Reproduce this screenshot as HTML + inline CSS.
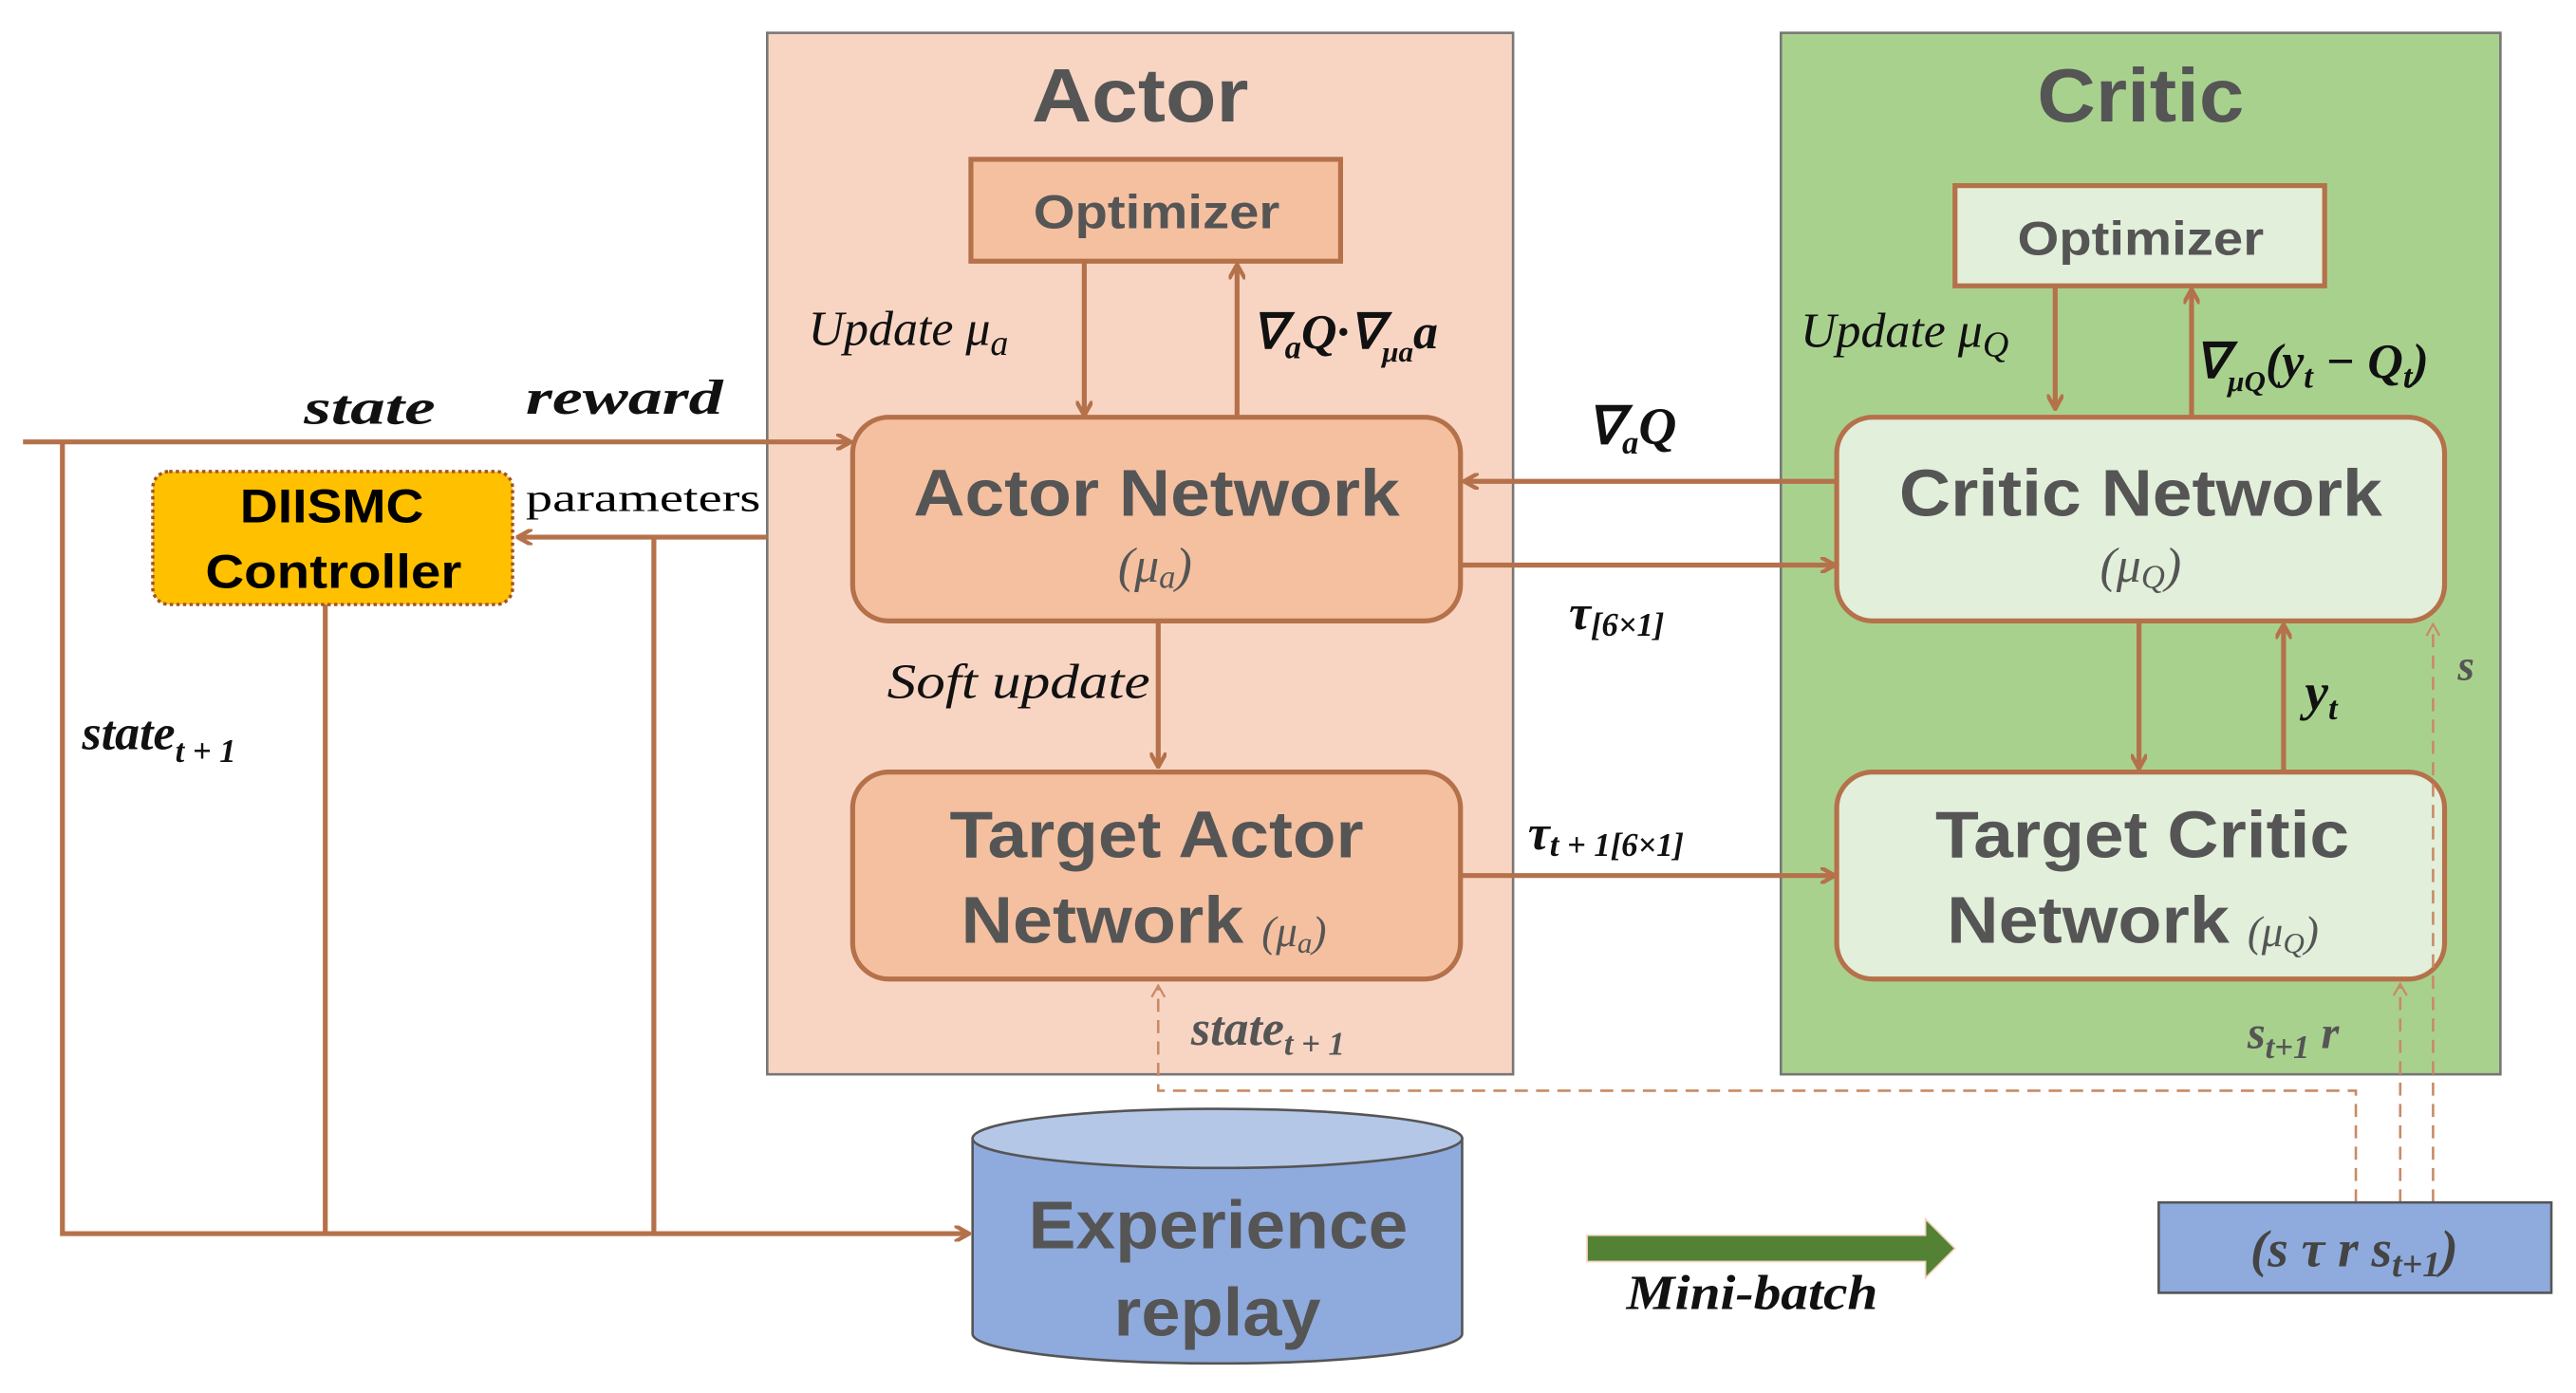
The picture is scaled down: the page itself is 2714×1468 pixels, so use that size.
<!DOCTYPE html>
<html><head><meta charset="utf-8"><style>
html,body{margin:0;padding:0;background:#fff}
svg{display:block}
.t{font-family:"Liberation Sans",sans-serif;font-weight:bold;fill:#555}
.m{font-family:"Liberation Serif",serif;font-style:italic;fill:#111}
.mb{font-family:"Liberation Serif",serif;font-style:italic;font-weight:bold;fill:#111}
</style></head><body>
<svg width="2714" height="1468" viewBox="0 0 1568 848" preserveAspectRatio="none" xmlns="http://www.w3.org/2000/svg">
<defs>
<marker id="a" markerWidth="10" markerHeight="10" refX="8" refY="5" orient="auto" markerUnits="userSpaceOnUse"><path d="M0,0 L9,5 L0,10" fill="none" stroke="#b5714a" stroke-width="2.5"/></marker>
<marker id="d" markerWidth="10" markerHeight="10" refX="8" refY="5" orient="auto" markerUnits="userSpaceOnUse"><path d="M1,1 L8,5 L1,9" fill="none" stroke="#c98a66" stroke-width="1.3"/></marker>
</defs>
<rect x="467" y="20" width="454" height="634" fill="#f8d5c3" stroke="#777" stroke-width="1.5"/>
<rect x="1084" y="20" width="438" height="634" fill="#a9d18e" stroke="#777" stroke-width="1.5"/>
<text x="628" y="74" class="t" font-size="46" textLength="132" lengthAdjust="spacingAndGlyphs">Actor</text>
<text x="1240" y="74" class="t" font-size="46" textLength="126" lengthAdjust="spacingAndGlyphs">Critic</text>
<rect x="591" y="97" width="225" height="62" fill="#f4c0a0" stroke="#b5714a" stroke-width="3"/>
<text x="629" y="139" class="t" font-size="29" textLength="150" lengthAdjust="spacingAndGlyphs">Optimizer</text>
<rect x="1190" y="113" width="225" height="61" fill="#e2efda" stroke="#b5714a" stroke-width="3"/>
<text x="1228" y="155" class="t" font-size="29" textLength="150" lengthAdjust="spacingAndGlyphs">Optimizer</text>
<g stroke="#b5714a" stroke-width="3" fill="none">
<rect x="519" y="254" width="370" height="124" rx="22" fill="#f4c0a0"/>
<rect x="519" y="470" width="370" height="126" rx="22" fill="#f4c0a0"/>
<rect x="1118" y="254" width="370" height="124" rx="22" fill="#e2efda"/>
<rect x="1118" y="470" width="370" height="126" rx="22" fill="#e2efda"/>
<line x1="660" y1="159" x2="660" y2="252" marker-end="url(#a)"/>
<line x1="753" y1="254" x2="753" y2="162" marker-end="url(#a)"/>
<line x1="1251" y1="174" x2="1251" y2="248" marker-end="url(#a)"/>
<line x1="1334" y1="254" x2="1334" y2="177" marker-end="url(#a)"/>
<polyline points="14,269 517,269" marker-end="url(#a)"/>
<polyline points="38,269 38,751 589,751" marker-end="url(#a)"/>
<line x1="467" y1="327" x2="316" y2="327" marker-end="url(#a)"/>
<line x1="398" y1="327" x2="398" y2="751"/>
<line x1="198" y1="368" x2="198" y2="751"/>
<line x1="705" y1="378" x2="705" y2="466" marker-end="url(#a)"/>
<line x1="1118" y1="293" x2="892" y2="293" marker-end="url(#a)"/>
<line x1="889" y1="344" x2="1116" y2="344" marker-end="url(#a)"/>
<line x1="889" y1="533" x2="1116" y2="533" marker-end="url(#a)"/>
<line x1="1302" y1="378" x2="1302" y2="467" marker-end="url(#a)"/>
<line x1="1390" y1="470" x2="1390" y2="381" marker-end="url(#a)"/>
</g>
<g stroke="#c98a66" stroke-width="1.5" fill="none" stroke-dasharray="8 5">
<polyline points="1434,732 1434,664 705,664 705,600" marker-end="url(#d)"/>
<line x1="1461" y1="732" x2="1461" y2="599" marker-end="url(#d)"/>
<line x1="1481" y1="732" x2="1481" y2="380" marker-end="url(#d)"/>
</g>
<text x="556" y="314" class="t" font-size="40" textLength="296" lengthAdjust="spacingAndGlyphs">Actor Network</text>
<text x="703" y="354" class="m" font-size="30" text-anchor="middle" style="fill:#555">(μ<tspan font-size="20" dy="4">a</tspan><tspan dy="-4">)</tspan></text>
<text x="578" y="522" class="t" font-size="40" textLength="252" lengthAdjust="spacingAndGlyphs">Target Actor</text>
<text x="585" y="574" class="t" font-size="40" textLength="172" lengthAdjust="spacingAndGlyphs">Network</text>
<text x="768" y="576" class="m" font-size="26" style="fill:#555">(μ<tspan font-size="18" dy="4">a</tspan><tspan dy="-4">)</tspan></text>
<text x="1156" y="314" class="t" font-size="40" textLength="294" lengthAdjust="spacingAndGlyphs">Critic Network</text>
<text x="1303" y="354" class="m" font-size="30" text-anchor="middle" style="fill:#555">(μ<tspan font-size="20" dy="4">Q</tspan><tspan dy="-4">)</tspan></text>
<text x="1178" y="522" class="t" font-size="40" textLength="252" lengthAdjust="spacingAndGlyphs">Target Critic</text>
<text x="1185" y="574" class="t" font-size="40" textLength="172" lengthAdjust="spacingAndGlyphs">Network</text>
<text x="1368" y="576" class="m" font-size="26" style="fill:#555">(μ<tspan font-size="18" dy="4">Q</tspan><tspan dy="-4">)</tspan></text>
<rect x="93" y="287" width="219" height="81" rx="10" fill="#ffc000" stroke="#a0522d" stroke-width="2" stroke-dasharray="2 2"/>
<text x="146" y="318" font-family="Liberation Sans,sans-serif" font-weight="bold" font-size="29" textLength="112" lengthAdjust="spacingAndGlyphs">DIISMC</text>
<text x="125" y="358" font-family="Liberation Sans,sans-serif" font-weight="bold" font-size="29" textLength="156" lengthAdjust="spacingAndGlyphs">Controller</text>
<text x="320" y="311" font-family="Liberation Serif,serif" font-size="24" textLength="143" lengthAdjust="spacingAndGlyphs">parameters</text>
<text x="185" y="258" class="mb" font-size="30" textLength="80" lengthAdjust="spacingAndGlyphs">state</text>
<text x="320" y="252" class="mb" font-size="30" textLength="120" lengthAdjust="spacingAndGlyphs">reward</text>
<text x="50" y="456" class="mb" font-size="30">state<tspan font-size="20" dy="8">t + 1</tspan></text>
<text x="492" y="210" class="m" font-size="30">Update μ<tspan font-size="22" dy="6">a</tspan></text>
<text x="762" y="212" class="mb" font-size="30">∇<tspan font-size="20" dy="6">a</tspan><tspan dy="-6">Q·∇</tspan><tspan font-size="18" dy="8">μa</tspan><tspan dy="-8">a</tspan></text>
<text x="1096" y="211" class="m" font-size="30">Update μ<tspan font-size="22" dy="6">Q</tspan></text>
<text x="1336" y="230" class="mb" font-size="30">∇<tspan font-size="18" dy="8">μQ</tspan><tspan dy="-8">(y</tspan><tspan font-size="20" dy="6">t</tspan><tspan dy="-6"> − Q</tspan><tspan font-size="20" dy="6">t</tspan><tspan dy="-6">)</tspan></text>
<text x="540" y="425" class="m" font-size="30" textLength="160" lengthAdjust="spacingAndGlyphs">Soft update</text>
<text x="966" y="270" class="mb" font-size="32">∇<tspan font-size="20" dy="6">a</tspan><tspan dy="-6">Q</tspan></text>
<text x="955" y="383" class="mb" font-size="30">τ<tspan font-size="20" dy="4">[6×1]</tspan></text>
<text x="930" y="517" class="mb" font-size="30">τ<tspan font-size="20" dy="4">t + 1[6×1]</tspan></text>
<text x="1403" y="432" class="mb" font-size="32">y<tspan font-size="20" dy="6">t</tspan></text>
<text x="1496" y="414" class="mb" font-size="26" style="fill:#555">s</text>
<text x="1368" y="638" class="mb" font-size="28" style="fill:#555">s<tspan font-size="20" dy="6">t+1</tspan><tspan dy="-6"> r</tspan></text>
<text x="725" y="636" class="mb" font-size="30" style="fill:#555">state<tspan font-size="20" dy="6">t + 1</tspan></text>
<path d="M592,693 L592,812 A149,18 0 0 0 890,812 L890,693 Z" fill="#8faadc" stroke="#555" stroke-width="1.5"/>
<ellipse cx="741" cy="693" rx="149" ry="18" fill="#b4c7e7" stroke="#555" stroke-width="1.5"/>
<text x="626" y="760" class="t" font-size="41" textLength="231" lengthAdjust="spacingAndGlyphs">Experience</text>
<text x="678" y="813" class="t" font-size="41" textLength="126" lengthAdjust="spacingAndGlyphs">replay</text>
<path d="M966,752 L1172,752 L1172,742 L1190,760 L1172,778 L1172,768 L966,768 Z" fill="#548235" stroke="#f8d5c3" stroke-width="1"/>
<text x="990" y="797" class="mb" font-size="30" textLength="153" lengthAdjust="spacingAndGlyphs">Mini-batch</text>
<rect x="1314" y="732" width="239" height="55" fill="#8faadc" stroke="#555" stroke-width="1.5"/>
<text x="1433" y="771" class="mb" font-size="32" text-anchor="middle" style="fill:#444">(s τ r s<tspan font-size="22" dy="6">t+1</tspan><tspan dy="-6">)</tspan></text>
</svg>
</body></html>
